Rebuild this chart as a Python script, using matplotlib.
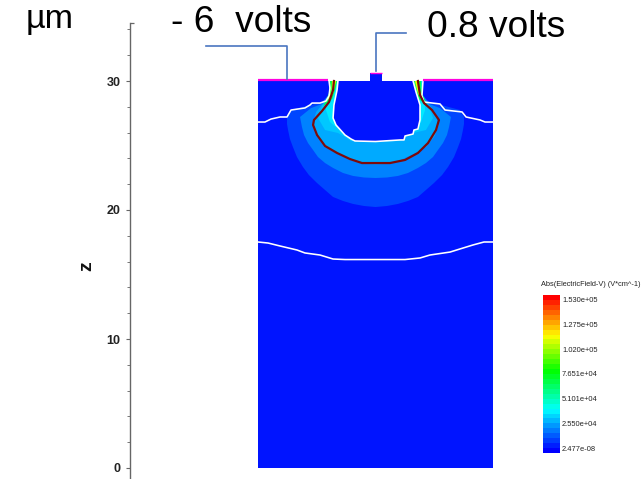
import matplotlib
matplotlib.use("Agg")
import matplotlib.pyplot as plt
from matplotlib.colors import LinearSegmentedColormap, Normalize
from matplotlib.cm import ScalarMappable
from matplotlib.lines import Line2D

plt.rcParams['font.family'] = ['Liberation Sans', 'DejaVu Sans']

W, H = 641, 479
PX_PER_UM = 12.9
X0_PX, Z0_PX = 375.5, 468

# ---- data (micrometres, offset from device centre) ----
domain_x = [-9.11, 9.11]
domain_z = [0, 30]
bump_x = [-0.43, 0.50]
bump_z = [30, 30.6]
gate_left_x = [-9.11, -3.68]
gate_right_x = [3.68, 9.11]

# left halves of the filled field bands; mirrored for the right side
band_colors = ['#0046ff', '#0082ff', '#00aaff', '#00c8ff', '#00eaff']
band1_x = [-3.60, -3.60, -4.30, -5.08, -6.55, -6.86, -6.86, -6.78, -6.63, -6.40, -6.09, -5.62, -5.16, -4.53, -3.91, -3.29, -2.52, -1.74, -0.89, 0]
band1_z = [30, 28.84, 28.29, 28.14, 27.75, 27.21, 26.67, 26.20, 25.50, 24.88, 24.11, 23.33, 22.71, 22.09, 21.55, 21.01, 20.70, 20.47, 20.31, 20.23]
band2_x = [-3.60, -3.60, -4.20, -5.00, -5.85, -5.70, -5.54, -5.23, -4.84, -4.46, -3.91, -3.29, -2.52, -1.74, -0.89, 0]
band2_z = [30, 29.00, 28.20, 27.90, 27.21, 26.43, 25.81, 25.19, 24.65, 24.11, 23.64, 23.26, 22.87, 22.64, 22.52, 22.48]
band3_x = [-3.60, -3.60, -4.20, -4.60, -4.90, -4.60, -3.95, -2.98, -1.98, -1.05, 0]
band3_z = [30, 28.70, 28.10, 27.60, 26.59, 25.75, 24.90, 24.36, 23.89, 23.58, 23.54]
band4_x = [-3.60, -3.60, -4.15, -4.46, -3.91, -2.91, -2.36, -1.89, 0]
band4_z = [30, 28.60, 28.06, 27.13, 26.20, 25.97, 25.66, 25.35, 25.30]
band5_x = [-3.60, -3.60, -3.80, -3.84, -3.53, -3.06, -2.50]
band5_z = [30, 29.00, 28.40, 27.75, 26.82, 26.43, 26.00]
bands_x = [band1_x, band2_x, band3_x, band4_x, band5_x]
bands_z = [band1_z, band2_z, band3_z, band4_z, band5_z]

# narrow high-field channel under each gate edge (left side)
stripe_colors = ['#00ff50', '#f0ff00']
green_x = [-3.53, -3.62, -4.05, -3.35, -3.08, -2.98]
green_z = [30, 29.0, 28.05, 28.6, 29.5, 30]
yellow_x = [-3.37, -3.42, -3.75, -3.30, -3.06]
yellow_z = [30, 29.2, 28.45, 29.0, 30]

# white iso-lines
upper_white_left_x = [-9.11, -8.57, -8.10, -7.40, -6.86, -6.55, -5.47, -5.08, -4.92, -4.30, -3.84, -3.60, -3.53, -3.60]
upper_white_left_z = [26.82, 26.82, 27.05, 27.21, 27.21, 27.75, 27.91, 28.14, 28.29, 28.29, 28.45, 28.84, 29.46, 30]
upper_white_right_x = [3.68, 3.60, 3.76, 5.00, 5.39, 6.71, 7.02, 8.10, 8.49, 9.11]
upper_white_right_z = [30, 28.84, 28.37, 28.22, 27.75, 27.60, 27.21, 26.98, 26.82, 26.82]
inner_white_x = [-2.91, -2.98, -3.22, -3.29, -3.06, -2.36, -1.89, -1.59, 0, 1.90, 2.21, 2.29, 2.91, 2.98, 3.29, 3.45, 3.45, 3.14, 2.91]
inner_white_z = [30, 29.30, 28.14, 27.13, 26.59, 25.81, 25.50, 25.35, 25.31, 25.43, 25.43, 25.74, 25.89, 26.20, 26.28, 26.98, 28.14, 29.15, 30]
lower_white_x = [-9.11, -8.33, -7.40, -6.09, -5.47, -4.30, -3.29, -2.36, 2.29, 3.45, 4.22, 5.78, 6.55, 7.56, 8.41, 9.11]
lower_white_z = [17.52, 17.44, 17.21, 16.90, 16.67, 16.51, 16.20, 16.16, 16.16, 16.28, 16.51, 16.74, 16.98, 17.29, 17.52, 17.52]

# dark red iso-line
red_x = [-3.22, -3.29, -3.60, -4.15, -4.77, -4.84, -4.53, -3.91, -2.98, -1.98, -1.05, 1.12, 2.29, 3.29, 4.07, 4.69, 4.92, 4.38, 3.76, 3.45, 3.29]
red_z = [30, 29.30, 28.37, 27.67, 26.98, 26.59, 25.81, 24.96, 24.42, 23.95, 23.64, 23.64, 23.88, 24.42, 25.19, 26.20, 26.98, 27.75, 28.29, 28.91, 30]

# axis
z_major = [0, 10, 20, 30]
z_minor = [2, 4, 6, 8, 12, 14, 16, 18, 22, 24, 26, 28, 32, 34]
z_axis_top = 34.52

# colour bar
cbar_title = 'Abs(ElectricField-V) (V*cm^-1)'
cbar_values = [2.477e-08, 2.550e+04, 5.101e+04, 7.651e+04, 1.020e+05, 1.275e+05, 1.530e+05]
cbar_labels = ['2.477e-08', '2.550e+04', '5.101e+04', '7.651e+04', '1.020e+05', '1.275e+05', '1.530e+05']
cbar_min, cbar_max = -5000, 158000
cbar_levels = 32
cmap_stops = [(0, '#0000ff'), (0.27, '#00ffff'), (0.52, '#00ff00'), (0.75, '#ffff00'), (1, '#ff0000')]

# text
unit_label = 'µm'
gate_label = '- 6  volts'
drain_label = '0.8 volts'

# ---- figure ----
fig = plt.figure(figsize=(W / 100, H / 100), dpi=100)
ax = fig.add_axes([0, 0, 1, 1])
ax.patch.set_alpha(0)
ax.set_xlim(-X0_PX / PX_PER_UM, (W - X0_PX) / PX_PER_UM)
ax.set_ylim((Z0_PX - H) / PX_PER_UM, Z0_PX / PX_PER_UM)

BG = '#0014ff'
ax.fill([domain_x[0], domain_x[1], domain_x[1], domain_x[0]],
        [domain_z[0], domain_z[0], domain_z[1], domain_z[1]], color=BG, lw=0, zorder=1)
ax.fill([bump_x[0], bump_x[1], bump_x[1], bump_x[0]],
        [bump_z[0], bump_z[0], bump_z[1], bump_z[1]], color=BG, lw=0, zorder=1)

def mirrored(xs, zs):
    return list(xs) + [-v for v in reversed(xs)], list(zs) + list(reversed(zs))

for xs, zs, c in zip(bands_x, bands_z, band_colors):
    mx, mz = mirrored(xs, zs)
    ax.fill(mx, mz, color=c, lw=0, zorder=2)

ax.fill(inner_white_x, inner_white_z, color=BG, lw=0, zorder=3)

for xs, zs, c in ((green_x, green_z, stripe_colors[0]), (yellow_x, yellow_z, stripe_colors[1])):
    ax.fill(xs, zs, color=c, lw=0, zorder=4)
    ax.fill([-v for v in xs], zs, color=c, lw=0, zorder=4)

white_kw = dict(color='white', lw=1.15, zorder=5, solid_joinstyle='round')
ax.plot(upper_white_left_x, upper_white_left_z, **white_kw)
ax.plot(upper_white_right_x, upper_white_right_z, **white_kw)
ax.plot(inner_white_x, inner_white_z, **white_kw)
ax.plot(lower_white_x, lower_white_z, **white_kw)
ax.plot(red_x, red_z, color='#7d0a0a', lw=1.6, zorder=6, solid_joinstyle='round')

mag = dict(color='#ff00e0', lw=1.6, zorder=6, solid_capstyle='butt')
ax.plot(gate_left_x, [30.08, 30.08], **mag)
ax.plot(gate_right_x, [30.08, 30.08], **mag)
ax.plot(bump_x, [30.6, 30.6], color='#ff00e0', lw=1.0, zorder=6, solid_capstyle='butt')

# z axis
for s in ('top', 'right', 'bottom'):
    ax.spines[s].set_visible(False)
ax.spines['left'].set_position(('data', (130 - X0_PX) / PX_PER_UM))
ax.spines['left'].set_bounds((Z0_PX - H) / PX_PER_UM, z_axis_top)
ax.spines['left'].set_color('#666666')
ax.spines['left'].set_linewidth(1.0)
ax.set_xticks([])
ax.set_yticks(z_major)
ax.set_yticks(z_minor, minor=True)
ax.set_yticklabels([str(v) for v in z_major], fontsize=9, fontweight='bold', color='#222222')
ax.tick_params(axis='y', which='major', length=2.6, width=0.8, color='#666666', pad=4.3)
ax.tick_params(axis='y', which='minor', length=2.2, width=0.7, color='#777777')
ax.plot([(130 - X0_PX) / PX_PER_UM, (134 - X0_PX) / PX_PER_UM], [z_axis_top, z_axis_top],
        color='#666666', lw=0.9, zorder=3, solid_capstyle='butt')

def fx(px):
    return px / W

def fy(py):
    return 1 - py / H

fig.text(fx(87), fy(266), 'z', fontsize=14, fontweight='bold', rotation=90, ha='center', va='center', color='#111111')

# annotations
fig.text(fx(26), fy(28), unit_label, fontsize=24.5, ha='left', va='baseline', color='black')
fig.text(fx(171), fy(32), gate_label, fontsize=26.7, ha='left', va='baseline', color='black')
fig.text(fx(427), fy(37), drain_label, fontsize=26.7, ha='left', va='baseline', color='black')

lead = '#4a76c0'
fig.add_artist(Line2D([fx(206), fx(287), fx(287)], [fy(46), fy(46), fy(79)], color=lead, lw=1.2))
fig.add_artist(Line2D([fx(406), fx(376), fx(376)], [fy(33), fy(33), fy(71)], color=lead, lw=1.2))

# colour bar
cax = fig.add_axes([fx(543), fy(453), (560 - 543) / W, (453 - 295) / H])
cmap = LinearSegmentedColormap.from_list('rainbow_bar', cmap_stops, N=cbar_levels)
cb = fig.colorbar(ScalarMappable(norm=Normalize(cbar_min, cbar_max), cmap=cmap), cax=cax, ticks=cbar_values)
cb.ax.set_yticklabels(cbar_labels, fontsize=5.4, color='#222222')
cb.ax.tick_params(length=0, pad=1.4)
cb.outline.set_visible(False)
fig.text(fx(541), fy(285), cbar_title, fontsize=5.3, ha='left', va='center', color='#222222')

fig.savefig('out.png', dpi=100)
